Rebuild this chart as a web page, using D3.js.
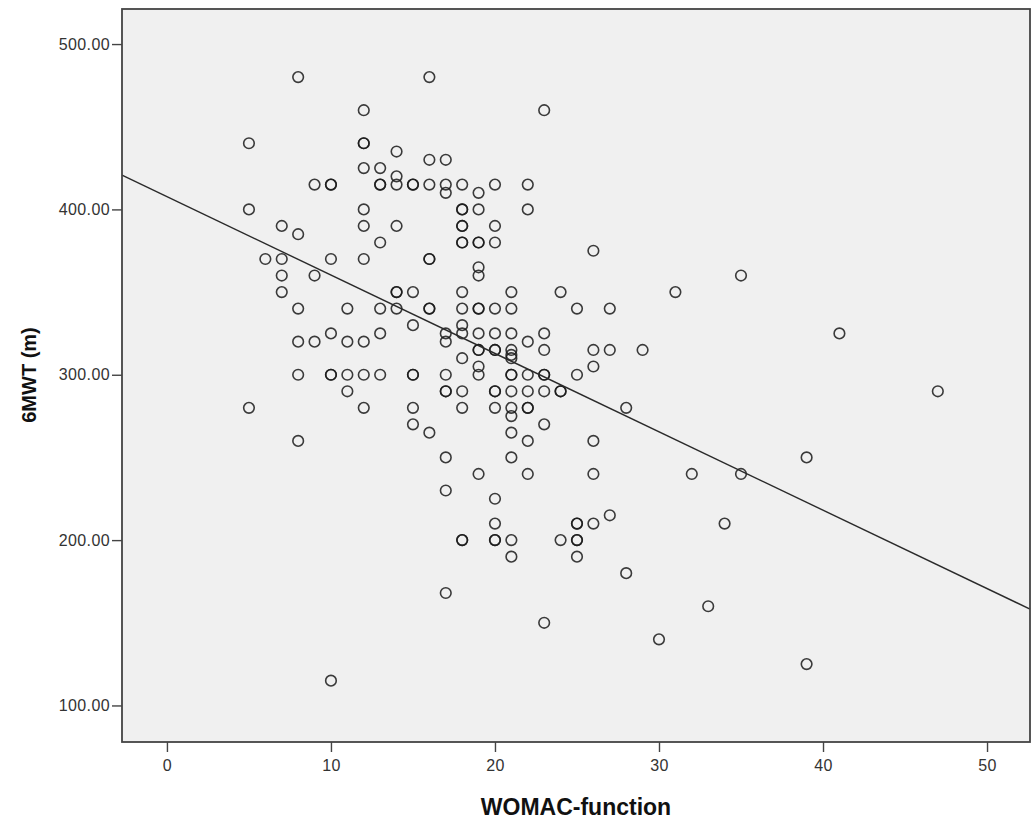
<!DOCTYPE html>
<html><head><meta charset="utf-8">
<script src="https://cdn.jsdelivr.net/npm/d3@7"></script>
<style>
body{margin:0;background:#fff}
text{font-family:Arial,"Liberation Sans",sans-serif}
</style>
</head><body><svg id="chart" width="1032" height="824"></svg>
<script>
// WOMAC-function score levels (x) and the 6MWT distances observed at each level (y)
const womacLevels = [5,6,7,8,9,10,11,12,13,14,15,16,17,18,19,20,21,22,23,24,25,26,27,28,29,30,31,32,33,34,35,39,41,47];
const walkDistances = [
  [440,400,280],
  [370],
  [390,370,360,350],
  [480,385,340,320,300,260],
  [415,360,320],
  [415,415,370,325,300,300,115],
  [340,320,300,290],
  [460,440,440,425,400,390,370,320,300,280],
  [425,415,415,380,340,325,300],
  [435,420,415,390,350,350,340],
  [415,415,350,330,300,300,280,270],
  [480,430,415,370,370,340,340,265],
  [430,415,410,325,320,300,290,290,250,230,168],
  [415,400,400,390,390,380,380,350,340,330,325,310,290,280,200,200],
  [410,400,380,380,365,360,340,340,325,315,315,305,300,240],
  [415,390,380,340,325,315,315,290,290,280,225,210,200,200],
  [350,340,325,315,312,310,300,300,290,280,275,265,250,200,190],
  [415,400,320,300,290,280,280,260,240],
  [460,325,315,300,300,290,270,150],
  [350,290,290,200],
  [340,300,210,210,200,200,190],
  [375,315,305,260,240,210],
  [340,315,215],
  [280,180],
  [315],
  [140],
  [350],
  [240],
  [160],
  [210],
  [360,240],
  [250,125],
  [325],
  [290]
];
const xTickValues = [0,10,20,30,40,50];
const yTickValues = [100,200,300,400,500];
// fitted linear regression line
const fitIntercept = 407.7;
const fitSlope = -4.74;
const xTitle = "WOMAC-function";
const yTitle = "6MWT (m)";

const points = [];
womacLevels.forEach((w, i) => walkDistances[i].forEach(d => points.push({w, d})));

const svg = d3.select("#chart");
const xDomain = [-2.74, 52.62], yDomain = [77.9, 521.2];
const x = d3.scaleLinear().domain(xDomain).range([122, 1030]);
const y = d3.scaleLinear().domain(yDomain).range([742, 9]);

svg.append("rect")
  .attr("x", x(xDomain[0])).attr("y", y(yDomain[1]))
  .attr("width", x(xDomain[1]) - x(xDomain[0]))
  .attr("height", y(yDomain[0]) - y(yDomain[1]))
  .attr("fill", "#f0f0f0");

// axes
const xAxis = svg.append("g").attr("transform", `translate(0,${y(yDomain[0])})`)
  .call(d3.axisBottom(x).tickValues(xTickValues).tickSize(10).tickPadding(8).tickFormat(d3.format("d")));
const yAxis = svg.append("g").attr("transform", `translate(${x(xDomain[0])},0)`)
  .call(d3.axisLeft(y).tickValues(yTickValues).tickSize(10).tickPadding(2).tickFormat(d3.format(".2f")));
[xAxis, yAxis].forEach(g => {
  g.select(".domain").remove();
  g.selectAll(".tick line").attr("stroke", "#444").attr("stroke-width", 1.4);
  g.selectAll(".tick text").attr("fill", "#333").attr("font-size", 16)
    .attr("letter-spacing", "0.4px").attr("font-family", "Arial, 'Liberation Sans', sans-serif");
});

// points
svg.append("g").selectAll("circle").data(points).join("circle")
  .attr("cx", d => x(d.w)).attr("cy", d => y(d.d)).attr("r", 5.3)
  .attr("fill", "none").attr("stroke", "#1a1a1a").attr("stroke-opacity", 0.85).attr("stroke-width", 1.6);

// fit line
svg.append("line")
  .attr("x1", x(xDomain[0])).attr("y1", y(fitIntercept + fitSlope * xDomain[0]))
  .attr("x2", x(xDomain[1])).attr("y2", y(fitIntercept + fitSlope * xDomain[1]))
  .attr("stroke", "#2a2a2a").attr("stroke-width", 1.4);

// frame
svg.append("rect")
  .attr("x", x(xDomain[0])).attr("y", y(yDomain[1]))
  .attr("width", x(xDomain[1]) - x(xDomain[0]))
  .attr("height", y(yDomain[0]) - y(yDomain[1]))
  .attr("fill", "none").attr("stroke", "#444").attr("stroke-width", 1.8);

// titles
svg.append("text").attr("x", 576).attr("y", 815).attr("text-anchor", "middle")
  .attr("font-size", 23).attr("font-weight", "bold").attr("fill", "#111").text(xTitle);
svg.append("text").attr("transform", "translate(36,375) rotate(-90)").attr("text-anchor", "middle")
  .attr("font-size", 20).attr("font-weight", "bold").attr("fill", "#111").text(yTitle);
</script>
</body></html>
